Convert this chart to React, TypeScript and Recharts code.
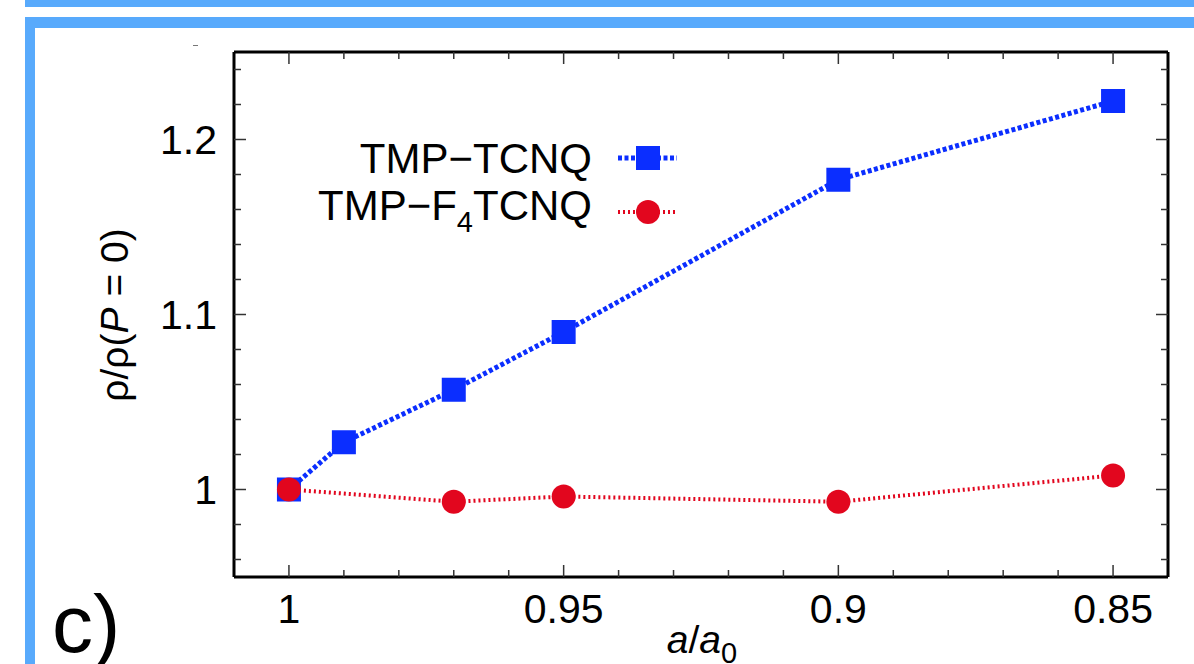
import React from "react";
import { ComposedChart, Line, XAxis, YAxis, Customized } from "recharts";

// a/a0 values and normalised resistivity
const X_TCNQ = [1, 0.99, 0.97, 0.95, 0.9, 0.85];
const Y_TCNQ = [1.0, 1.027, 1.057, 1.09, 1.177, 1.222];
const X_F4 = [1, 0.97, 0.95, 0.9, 0.85];
const Y_F4 = [1.0, 0.993, 0.996, 0.993, 1.008];

const X_TICKS = [1, 0.99, 0.98, 0.97, 0.96, 0.95, 0.94, 0.93, 0.92, 0.91, 0.9, 0.89, 0.88, 0.87, 0.86, 0.85];
const X_MAJOR = ["1", "0.95", "0.9", "0.85"];
const Y_TICKS = [0.96, 0.98, 1, 1.02, 1.04, 1.06, 1.08, 1.1, 1.12, 1.14, 1.16, 1.18, 1.2, 1.22, 1.24];
const Y_MAJOR = ["1", "1.1", "1.2"];

const BLUE = "#0b2eff";
const RED = "#e2061e";
const FRAME = "#58aafc";
const FONT = '"Liberation Sans", Arial, Helvetica, sans-serif';

const tcnq = X_TCNQ.map((x, i) => ({ x, y: Y_TCNQ[i] }));
const f4 = X_F4.map((x, i) => ({ x, y: Y_F4[i] }));

const label = (v: number) => String(Math.round(v * 100) / 100);

function XTick(props: any, side: "bottom" | "top") {
  const { x, y, payload } = props;
  const s = label(payload.value);
  const major = X_MAJOR.includes(s);
  const len = major ? 12 : 7;
  const dir = side === "bottom" ? -1 : 1;
  return (
    <g>
      <line x1={x} x2={x} y1={y} y2={y + dir * len} stroke="#333" strokeWidth={1.5} />
      {major && side === "bottom" && (
        <text x={x} y={y + 46} textAnchor="middle" fontSize={41} fontFamily={FONT} fill="#000">
          {s}
        </text>
      )}
    </g>
  );
}

function YTick(props: any, side: "left" | "right") {
  const { x, y, payload } = props;
  const s = label(payload.value);
  const major = Y_MAJOR.includes(s);
  const len = major ? 12 : 7;
  const dir = side === "left" ? 1 : -1;
  return (
    <g>
      <line x1={x} x2={x + dir * len} y1={y} y2={y} stroke="#333" strokeWidth={1.5} />
      {major && side === "left" && (
        <text x={x - 17} y={y + 14} textAnchor="end" fontSize={41} fontFamily={FONT} fill="#000">
          {s}
        </text>
      )}
    </g>
  );
}

const Square = (p: any) =>
  p.cx == null ? <g /> : <rect x={p.cx - 12} y={p.cy - 12} width={24} height={24} fill={BLUE} />;
const Circle = (p: any) =>
  p.cx == null ? <g /> : <circle cx={p.cx} cy={p.cy} r={12} fill={RED} />;

function Decor() {
  return (
    <g fontFamily={FONT} fill="#000">
      {/* legend */}
      <text x={592} y={173} textAnchor="end" fontSize={42}>TMP−TCNQ</text>
      <line x1={618} x2={677} y1={158} y2={158} stroke={BLUE} strokeWidth={5} strokeDasharray="4 2.5" />
      <rect x={636} y={146} width={24} height={24} fill={BLUE} />
      <text x={592} y={220} textAnchor="end" fontSize={42}>
        TMP−F<tspan fontSize={29} dy={12}>4</tspan>
        <tspan dy={-12}>TCNQ</tspan>
      </text>
      <line x1={618} x2={677} y1={212} y2={212} stroke={RED} strokeWidth={4} strokeDasharray="2 3" />
      <circle cx={648} cy={212} r={12} fill={RED} />
      {/* axis titles */}
      <text x={702} y={653} textAnchor="middle" fontSize={39}>
        <tspan fontStyle="italic">a</tspan>/<tspan fontStyle="italic">a</tspan>
        <tspan fontSize={29} dy={10}>0</tspan>
      </text>
      <text transform="translate(128,315) rotate(-90)" textAnchor="middle" fontSize={39}>
        ρ/ρ(<tspan fontStyle="italic">P</tspan> = 0)
      </text>
      <text x={52} y={652} fontSize={82} fontWeight={300}>c)</text>
    </g>
  );
}

export default function App() {
  return (
    <div style={{ position: "absolute", left: 0, top: 0, width: 1194, height: 664, background: "#fff", overflow: "hidden" }}>
      <div style={{ position: "absolute", left: 25, top: 0, width: 1169, height: 7, background: FRAME }} />
      <div style={{ position: "absolute", left: 25, top: 17, width: 1169, height: 11, background: FRAME }} />
      <div style={{ position: "absolute", left: 25, top: 17, width: 10, height: 647, background: FRAME }} />
      <div style={{ position: "absolute", left: 193, top: 45, width: 5, height: 1, background: "#777" }} />
      <div style={{ position: "absolute", left: 0, top: 0 }}>
        <ComposedChart width={1194} height={664} margin={{ top: 50, right: 24, bottom: 27, left: 154 }}>
          <XAxis
            xAxisId="b"
            type="number"
            dataKey="x"
            domain={[0.84, 1.01]}
            reversed
            allowDataOverflow
            ticks={X_TICKS}
            interval={0}
            tickSize={0}
            tickMargin={0}
            tickLine={false}
            tick={(p: any) => XTick(p, "bottom")}
            axisLine={{ stroke: "#000", strokeWidth: 3 }}
            height={60}
          />
          <XAxis
            xAxisId="t"
            orientation="top"
            type="number"
            dataKey="x"
            domain={[0.84, 1.01]}
            reversed
            allowDataOverflow
            ticks={X_TICKS}
            interval={0}
            tickSize={0}
            tickMargin={0}
            tickLine={false}
            tick={(p: any) => XTick(p, "top")}
            axisLine={{ stroke: "#000", strokeWidth: 3 }}
            height={2}
          />
          <YAxis
            yAxisId="l"
            type="number"
            domain={[0.95, 1.25]}
            allowDataOverflow
            ticks={Y_TICKS}
            interval={0}
            tickSize={0}
            tickMargin={0}
            tickLine={false}
            tick={(p: any) => YTick(p, "left")}
            axisLine={{ stroke: "#000", strokeWidth: 3 }}
            width={80}
          />
          <YAxis
            yAxisId="r"
            orientation="right"
            type="number"
            domain={[0.95, 1.25]}
            allowDataOverflow
            ticks={Y_TICKS}
            interval={0}
            tickSize={0}
            tickMargin={0}
            tickLine={false}
            tick={(p: any) => YTick(p, "right")}
            axisLine={{ stroke: "#000", strokeWidth: 3 }}
            width={2}
          />
          <Line
            xAxisId="b"
            yAxisId="l"
            data={tcnq}
            dataKey="y"
            type="linear"
            stroke={BLUE}
            strokeWidth={5}
            strokeDasharray="4 2.5"
            dot={Square}
            activeDot={false}
            isAnimationActive={false}
          />
          <Line
            xAxisId="b"
            yAxisId="l"
            data={f4}
            dataKey="y"
            type="linear"
            stroke={RED}
            strokeWidth={4}
            strokeDasharray="2 3"
            dot={Circle}
            activeDot={false}
            isAnimationActive={false}
          />
          <Customized component={Decor} />
        </ComposedChart>
      </div>
    </div>
  );
}
